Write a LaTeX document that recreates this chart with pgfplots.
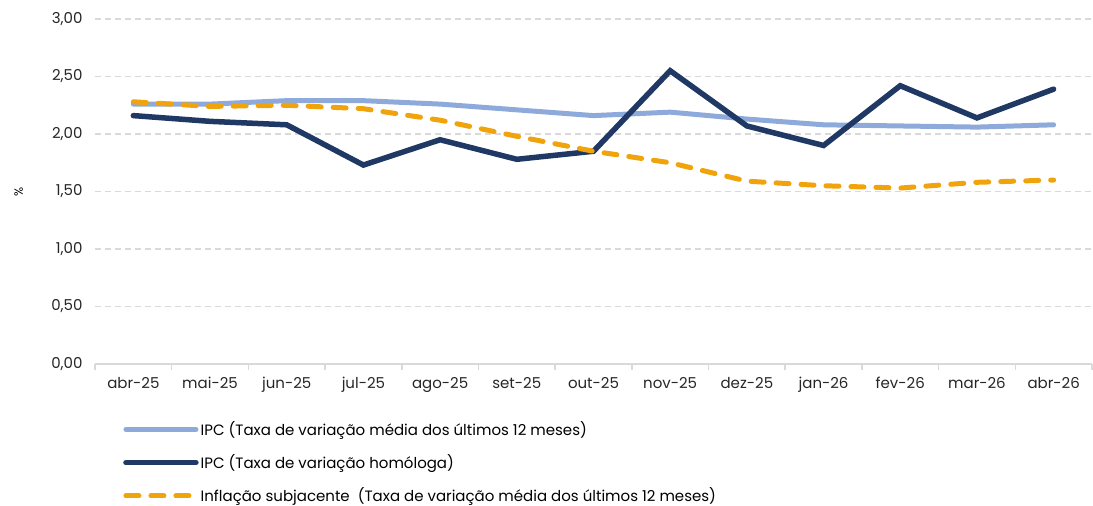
\documentclass[border=0pt]{standalone}
\usepackage{fontspec}
\setmainfont{Poppins}
\usepackage{pgfplots}
\pgfplotsset{compat=1.18}
\definecolor{ipcmedia}{HTML}{8EAADB}
\definecolor{ipchom}{HTML}{203864}
\definecolor{subj}{HTML}{F0A30A}
\definecolor{gridgrey}{HTML}{D9D9D9}
\begin{document}
\fontsize{15}{17}\selectfont
\begin{tikzpicture}
\path[use as bounding box] (-95pt,-142pt) rectangle (998pt,19pt+345pt);
\begin{axis}[
  at={(0pt,0pt)}, anchor=south west,
  scale only axis,
  width=997pt, height=345pt,
  xmin=-0.5, xmax=12.5,
  ymin=0, ymax=3,
  axis x line*=bottom,
  axis y line*=left,
  x axis line style={gridgrey, line width=1.5pt},
  y axis line style={draw=none},
  xtick={0,...,12},
  xticklabels={abr-25,mai-25,jun-25,jul-25,ago-25,set-25,out-25,nov-25,dez-25,jan-26,fev-26,mar-26,abr-26},
  major x tick style={draw=none},
  minor xtick={-0.5,0.5,...,12.5},
  minor x tick style={gridgrey, line width=1.5pt},
  minor tick length=6pt,
  tick align=outside,
  ytick={0,0.5,...,3},
  major y tick style={draw=none},
  ymajorgrids,
  major grid style={gridgrey, line width=1.5pt, dash pattern=on 6pt off 4pt},
  /pgf/number format/fixed,
  /pgf/number format/fixed zerofill,
  /pgf/number format/precision=2,
  /pgf/number format/use comma,
  /pgf/number format/assume math mode=true,
  tick label style={font=\fontsize{15}{17}\selectfont},
  yticklabel style={text=black!85, xshift=-3pt},
  xticklabel style={text=black!85, yshift=-4pt},
  ylabel={\%},
  ylabel style={xshift=0pt, yshift=18pt, font=\fontsize{12}{14}\selectfont},
  legend style={at={(25pt,-53pt)}, anchor=north west, draw=none, fill=none,
    legend cell align=left, row sep=13pt, font=\fontsize{15}{17}\selectfont},
  legend image code/.code={\draw[#1] (0pt,0pt) -- (70pt,0pt);},
  clip=false,
]
\addplot[ipcmedia, line width=5pt, line cap=round, line join=round] coordinates {
(0,2.26) (1,2.26) (2,2.29) (3,2.29) (4,2.26) (5,2.21) (6,2.16) (7,2.19) (8,2.13) (9,2.08) (10,2.07) (11,2.06) (12,2.08)};
\addplot[ipchom, line width=5.5pt, line cap=round, line join=miter] coordinates {
(0,2.16) (1,2.11) (2,2.08) (3,1.73) (4,1.95) (5,1.78) (6,1.85) (7,2.55) (8,2.07) (9,1.90) (10,2.42) (11,2.14) (12,2.39)};
\addplot[subj, line width=5pt, line cap=round, dash pattern=on 13pt off 12pt] coordinates {
(0,2.28) (1,2.24) (2,2.25) (3,2.22) (4,2.12) (5,1.98) (6,1.85) (7,1.75) (8,1.59) (9,1.55) (10,1.53) (11,1.58) (12,1.60)};
\legend{IPC (Taxa de variação média dos últimos 12 meses),IPC (Taxa de variação homóloga),Inflação subjacente\ \ (Taxa de variação média dos últimos 12 meses)}
\end{axis}
\end{tikzpicture}
\end{document}
